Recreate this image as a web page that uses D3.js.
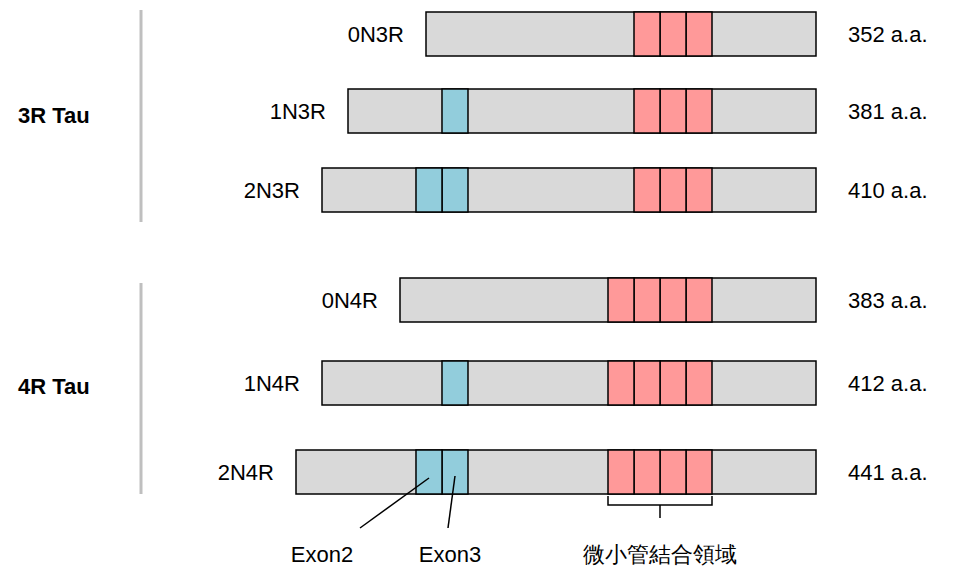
<!DOCTYPE html><html><head><meta charset="utf-8">
<script src="https://cdn.jsdelivr.net/npm/d3@7"></script>
<style>body{margin:0;background:#fff}text{font-family:"Liberation Sans",Arial,sans-serif}</style></head><body>
<script>
// positions in diagram units (1 unit per segment step); bar end = 20
const isoforms = ["0N3R","1N3R","2N3R","0N4R","1N4R","2N4R"];
const lengths = ["352 a.a.","381 a.a.","410 a.a.","383 a.a.","412 a.a.","441 a.a."];
const starts = [5.0, 2.0, 1.0, 4.0, 1.0, 0.0];
const exonCounts = [0, 1, 2, 0, 1, 2];
const repeatCounts = [3, 3, 3, 4, 4, 4];
const groups = ["3R Tau","4R Tau"];
const exonLabels = ["Exon2","Exon3"];
const domainLabel = "微小管結合領域";
const barEnd = 20, exonEnd = 6.615, repeatEnd = 16;

const W=971,H=588;
const svg=d3.select("body").append("svg").attr("width",W).attr("height",H);
const x=d3.scaleLinear().domain([0,20]).range([296,816]);
const y=d3.scaleBand().domain(isoforms).range([0,550]).paddingInner(0.8);
const yPos={ "0N3R":12,"1N3R":89,"2N3R":168,"0N4R":278,"1N4R":361,"2N4R":450 };
const bh=44;
isoforms.forEach((iso,i)=>{
  const y0=yPos[iso];
  svg.append("rect").attr("x",x(starts[i])).attr("y",y0).attr("width",x(barEnd)-x(starts[i])).attr("height",bh)
    .attr("fill","#d9d9d9").attr("stroke","#000").attr("stroke-width",1.5);
  for(let e=0;e<exonCounts[i];e++){
    svg.append("rect").attr("x",x(exonEnd-(e+1))).attr("y",y0).attr("width",x(1)-x(0)).attr("height",bh)
      .attr("fill","#92cddc").attr("stroke","#000").attr("stroke-width",1.5);
  }
  for(let r=0;r<repeatCounts[i];r++){
    svg.append("rect").attr("x",x(repeatEnd-(r+1))).attr("y",y0).attr("width",x(1)-x(0)).attr("height",bh)
      .attr("fill","#ff9999").attr("stroke","#000").attr("stroke-width",1.5);
  }
  svg.append("text").attr("x",x(starts[i])-22).attr("y",y0+bh/2+8).attr("text-anchor","end").attr("font-size",22).text(iso);
  svg.append("text").attr("x",848).attr("y",y0+bh/2+8).attr("font-size",22).text(lengths[i]);
});
// group labels and lines
[[10,222,123],[283,494,394]].forEach((g,i)=>{
  svg.append("line").attr("x1",141).attr("x2",141).attr("y1",g[0]).attr("y2",g[1]).attr("stroke","#bfbfbf").attr("stroke-width",3);
  svg.append("text").attr("x",18).attr("y",g[2]).attr("font-size",22).attr("font-weight","bold").text(groups[i]);
});
// bracket
const bx0=x(repeatEnd-4),bx1=x(repeatEnd);
svg.append("path").attr("d",`M${bx0},496V505H${bx1}V496M${(bx0+bx1)/2},505V518`).attr("fill","none").attr("stroke","#000").attr("stroke-width",1.5);
svg.append("text").attr("x",(bx0+bx1)/2).attr("y",562).attr("text-anchor","middle").attr("font-size",22).text(domainLabel);
// exon pointers
svg.append("line").attr("x1",x(exonEnd-1.5)).attr("y1",478).attr("x2",360).attr("y2",528).attr("stroke","#000").attr("stroke-width",1.5);
svg.append("line").attr("x1",x(exonEnd-0.5)).attr("y1",476).attr("x2",448).attr("y2",528).attr("stroke","#000").attr("stroke-width",1.5);
svg.append("text").attr("x",322).attr("y",562).attr("text-anchor","middle").attr("font-size",22).text(exonLabels[0]);
svg.append("text").attr("x",450).attr("y",562).attr("text-anchor","middle").attr("font-size",22).text(exonLabels[1]);
</script></body></html>
